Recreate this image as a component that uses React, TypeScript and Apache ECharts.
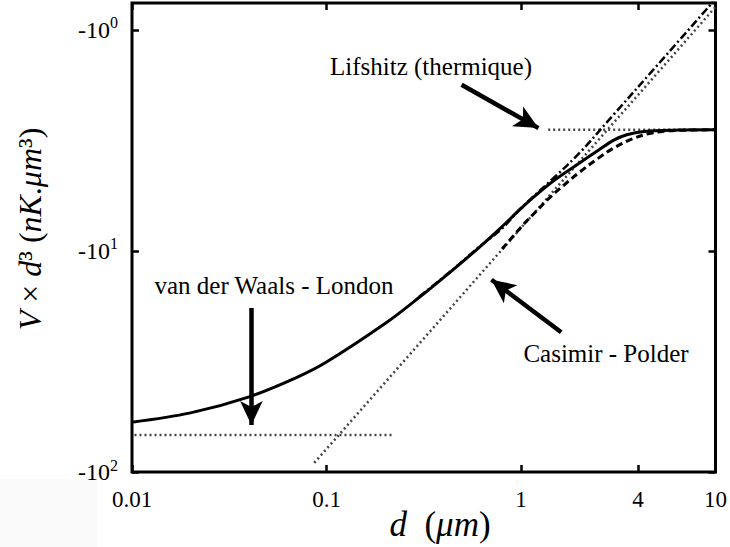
import React, { useEffect, useRef } from 'react';
import * as echarts from 'echarts';

// Full potential (solid)
const dSolid = [0.01, 0.02, 0.04, 0.07, 0.1, 0.2, 0.3, 0.45, 0.6, 0.77, 1.0, 1.13, 1.5, 2.0, 2.5, 3.0, 3.5, 4.3, 6, 10];
const vSolid = [-59.5, -54, -45.7, -37.4, -31.8, -21.3, -16.2, -12.1, -9.75, -8.0, -6.42, -5.82, -4.75, -4.0, -3.5, -3.15, -2.98, -2.88, -2.84, -2.83];
// Dashed curve
const dDashed = [0.8, 1.0, 1.2, 1.4, 1.7, 2.0, 2.5, 3.0, 3.7, 4.5, 5.5, 7, 10];
const vDashed = [-9.8, -7.8, -6.6, -5.75, -4.95, -4.4, -3.8, -3.42, -3.12, -2.95, -2.87, -2.84, -2.83];
// Dash-dot curve
const dDashDot = [0.3, 0.45, 0.6, 0.8, 1.0, 1.5, 2.0, 3.0, 5.0, 10];
const vDashDot = [-16.1, -12.05, -9.7, -7.9, -6.4, -4.6, -3.6, -2.41, -1.45, -0.725];
// Asymptotes (dotted)
const dVdW = [0.0103, 0.217];
const vVdW = [-68, -68];
const dCP = [0.0865, 10];
const vCP = [-91, -0.787];
const dLif = [1.38, 10];
const vLif = [-2.83, -2.83];

// Ticks
const xTickValues = [0.01, 0.1, 1, 4, 10];
const xTickLabels = ['0.01', '0.1', '1', '4', '10'];
const yTickValues = [1, 10, 100];
const yTickBase = ['-10', '-10', '-10'];
const yTickExp = ['0', '1', '2'];

// Annotations
const annTexts = ['van der Waals - London', 'Lifshitz (thermique)', 'Casimir - Polder'];
const arrowFromD = [0.0411, 0.495, 1.61];
const arrowFromV = [-18.1, -1.77, -23.3];
const arrowToD = [0.0411, 1.23, 0.705];
const arrowToV = [-61.3, -2.78, -13.5];

const SERIF = '"Liberation Serif", "Times New Roman", serif';

const pairs = (d: number[], v: number[]) => d.map((x, i) => [x, Math.abs(v[i])]);
const closest = (arr: number[], v: number) => {
  let best = 0;
  arr.forEach((t, i) => {
    if (Math.abs(Math.log10(t) - Math.log10(v)) < Math.abs(Math.log10(arr[best]) - Math.log10(v))) best = i;
  });
  return best;
};

export default function App() {
  const ref = useRef<HTMLDivElement>(null);
  useEffect(() => {
    const chart = echarts.init(ref.current!, null, { renderer: 'svg' });
    const tick = { show: true, inside: true, length: 7, lineStyle: { color: '#000', width: 2.5 } };
    const xBase = {
      type: 'log', logBase: 10, min: 0.01, max: 10,
      axisLine: { show: false }, splitLine: { show: false },
      axisTick: { ...tick, customValues: xTickValues },
    };
    const yBase = {
      type: 'log', logBase: 10, min: 0.755, max: 100, inverse: true,
      axisLine: { show: false }, splitLine: { show: false },
      axisTick: { ...tick, customValues: yTickValues },
    };
    const line = (name: string, d: number[], v: number[], style: any, smooth = false, extra: any = {}) => ({
      name, type: 'line', data: pairs(d, v), symbol: 'none', showSymbol: false, smooth: smooth ? 0.35 : false,
      lineStyle: style, silent: true, emphasis: { disabled: true }, ...extra,
    });
    const dotted = { color: '#444', width: 2.5, type: [2, 3] };
    const option: any = {
      animation: false,
      backgroundColor: '#fff',
      grid: { left: 132, right: 12, top: 3, bottom: 75, show: true, borderColor: '#000', borderWidth: 3, backgroundColor: 'transparent' },
      xAxis: [
        { ...xBase, position: 'bottom', axisLabel: {
          customValues: xTickValues, margin: 16, fontFamily: SERIF, fontSize: 23, color: '#000',
          formatter: (v: number) => xTickLabels[closest(xTickValues, v)],
        } },
        { ...xBase, position: 'top', axisLabel: { show: false } },
      ],
      yAxis: [
        { ...yBase, position: 'left', axisLabel: {
          customValues: yTickValues, margin: 14, color: '#000',
          formatter: (v: number) => { const i = closest(yTickValues, v); return `{m|${yTickBase[i]}}{s|${yTickExp[i]}}`; },
          rich: {
            m: { fontFamily: SERIF, fontSize: 24, color: '#000', lineHeight: 30 },
            s: { fontFamily: SERIF, fontSize: 16, color: '#000', lineHeight: 16, verticalAlign: 'top' },
          },
        } },
        { ...yBase, position: 'right', axisLabel: { show: false } },
      ],
      series: [
        line('vdW', dVdW, vVdW, dotted),
        line('CP', dCP, vCP, dotted),
        line('Lifshitz', dLif, vLif, dotted),
        line('dashed', dDashed, vDashed, { color: '#000', width: 3, type: [7, 4] }, true),
        line('dashdot', dDashDot, vDashDot, { color: '#000', width: 2.5, type: [8, 3, 2, 3] }, true),
        line('solid', dSolid, vSolid, { color: '#000', width: 3 }, true, {
          markLine: {
            silent: true, symbol: ['none', 'arrow'], symbolSize: [17, 24],
            label: { show: false }, emphasis: { disabled: true },
            lineStyle: { color: '#000', width: 4.5, type: 'solid' },
            data: arrowFromD.map((d, i) => [
              { coord: [d, Math.abs(arrowFromV[i])] },
              { coord: [arrowToD[i], Math.abs(arrowToV[i])] },
            ]),
          },
        }),
      ],
      graphic: [
        { type: 'rect', shape: { x: 0, y: 479, width: 97, height: 68 }, style: { fill: '#fafafa' }, silent: true },
        { type: 'text', x: 30, y: 229, rotation: Math.PI / 2, silent: true, style: {
          text: '{i|V} × {i|d}³ ({i|nK}.{i|μm}³)', fontFamily: SERIF, fontSize: 32, fill: '#000',
          align: 'center', verticalAlign: 'middle',
          rich: { i: { fontFamily: SERIF, fontSize: 32, fontStyle: 'italic', fill: '#000' } },
        } },
        { type: 'text', x: 440, y: 524, silent: true, style: {
          text: '{i|d}  ({i|μm})', fontFamily: SERIF, fontSize: 35, fill: '#000',
          align: 'center', verticalAlign: 'middle',
          rich: { i: { fontFamily: SERIF, fontSize: 35, fontStyle: 'italic', fill: '#000' } },
        } },
        { type: 'text', x: 274, y: 285, silent: true, style: { text: annTexts[0], fontFamily: SERIF, fontSize: 25, fill: '#000', align: 'center', verticalAlign: 'middle' } },
        { type: 'text', x: 431, y: 66, silent: true, style: { text: annTexts[1], fontFamily: SERIF, fontSize: 25, fill: '#000', align: 'center', verticalAlign: 'middle' } },
        { type: 'text', x: 606, y: 353, silent: true, style: { text: annTexts[2], fontFamily: SERIF, fontSize: 25, fill: '#000', align: 'center', verticalAlign: 'middle' } },
      ],
    };
    chart.setOption(option);
    return () => chart.dispose();
  }, []);
  return <div ref={ref} style={{ position: 'fixed', left: 0, top: 0, width: 730, height: 547, background: '#fff' }} />;
}
